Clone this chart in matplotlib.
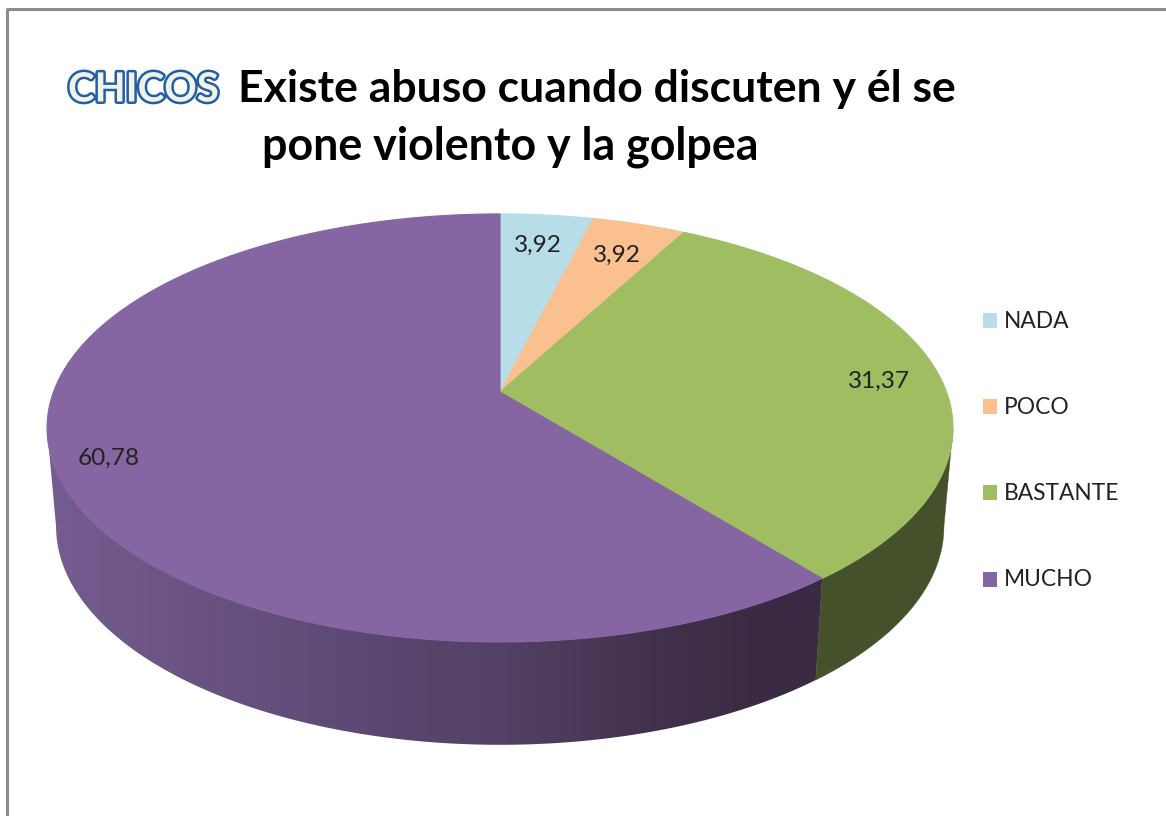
import numpy as np
import matplotlib
matplotlib.use("Agg")
import matplotlib.pyplot as plt
import matplotlib.patheffects as pe
from matplotlib.patches import Polygon, Rectangle

categories = ["NADA", "POCO", "BASTANTE", "MUCHO"]
values = [3.92, 3.92, 31.37, 60.78]
value_labels = ["3,92", "3,92", "31,37", "60,78"]
colors = ["#B7DDE8", "#FAC090", "#A0BD62", "#8565A2"]
title_word = "CHICOS"
title_line1 = "Existe abuso cuando discuten y él se"
title_line2 = "pone violento y la golpea"

plt.rcParams["font.family"] = ["Lato", "DejaVu Sans"]
fig = plt.figure(figsize=(11.66, 8.16), dpi=100)
ax = fig.add_axes([0, 0, 1, 1])
ax.set_xlim(0, 1166)
ax.set_ylim(816, 0)
ax.axis("off")

# projective view of the pie disc
CX, K = 500.0, 0.168
TOP = dict(a=446.5, b=208.0, y0=392.0)
LOW = dict(a=437.6, b=212.0, y0=490.0)


def rim(theta, a, b, y0):
    u, v = np.sin(theta), np.cos(theta)
    d = 1 + K * v
    return np.column_stack([CX + a * u / d, y0 - b * v / d])


fractions = np.array(values) / np.sum(values)
edges = 2 * np.pi * np.concatenate([[0], np.cumsum(fractions)])

# side wall shading (left to right across the front)
wall_x = [45, 150, 300, 500, 650, 760, 825]
wall_r = [0x75, 0x6E, 0x61, 0x52, 0x43, 0x3A, 0x3A]
wall_g = [0x5C, 0x56, 0x4C, 0x41, 0x32, 0x2A, 0x2A]
wall_b = [0x92, 0x86, 0x7A, 0x64, 0x4E, 0x43, 0x43]
green_wall = "#45512A"

t_start, t_end = np.arccos(-K), 2 * np.pi - np.arccos(-K)


def wall_polygon(t0, t1):
    ts = np.linspace(t0, t1, 300)
    return np.vstack([rim(ts, **TOP), rim(ts, **LOW)[::-1]])


ax.add_patch(Polygon(wall_polygon(t_start, edges[3]), closed=True,
                     facecolor=green_wall, edgecolor=green_wall, linewidth=0.3))

xs = np.arange(40, 830)
grad = np.stack([np.interp(xs, wall_x, wall_r),
                 np.interp(xs, wall_x, wall_g),
                 np.interp(xs, wall_x, wall_b)], axis=-1)[None, :, :] / 255
purple_clip = Polygon(wall_polygon(edges[3], t_end), closed=True, facecolor="none",
                      edgecolor="none", transform=ax.transData)
ax.add_patch(purple_clip)
im = ax.imshow(grad, extent=(xs[0], xs[-1], 760, 400), aspect="auto",
               interpolation="bilinear", zorder=1)
im.set_clip_path(purple_clip)
ax.set_xlim(0, 1166)
ax.set_ylim(816, 0)

# top face
for c, t0, t1 in zip(colors, edges[:-1], edges[1:]):
    n = max(int((t1 - t0) * 120), 8)
    arc = rim(np.linspace(t0, t1, n), **TOP)
    pts = np.vstack([[CX, TOP["y0"]], arc])
    ax.add_patch(Polygon(pts, closed=True, facecolor=c, edgecolor=c, linewidth=0.8, zorder=2))

# data labels
label_xy = [(538, 245), (617, 255), (879, 381), (109, 458)]
for (x, y), s in zip(label_xy, value_labels):
    ax.text(x, y, s, ha="center", va="center", fontsize=17.6, color="#222222", zorder=3)

# legend
legend_y = [320, 406, 492.5, 579]
legend_base = [328, 414, 500, 586]
for y, b, c, s in zip(legend_y, legend_base, colors, categories):
    ax.add_patch(Rectangle((982.5, y - 7.5), 14.5, 15, facecolor=c, edgecolor="none"))
    ax.text(1004, b, s, ha="left", va="baseline", fontsize=16.4, color="#222222")

# titles
ax.text(238, 102, title_line1, ha="left", va="baseline", fontsize=32, fontweight="bold", color="#000000")
ax.text(262, 160, title_line2, ha="left", va="baseline", fontsize=32.2, fontweight="bold", color="#000000")
ax.text(68, 101.5, title_word, ha="left", va="baseline", fontsize=29, fontweight="bold", color="#F4F2E4",
        path_effects=[pe.withStroke(linewidth=3.6, foreground="#1F5FA8")])

# chart-area border (top and left only are in frame)
ax.add_line(plt.Line2D([7, 7], [816, 9], color="#8c8c8c", lw=2.2, solid_capstyle="butt"))
ax.add_line(plt.Line2D([6, 1166], [9, 9], color="#8c8c8c", lw=2.2, solid_capstyle="butt"))

fig.savefig("out.png", dpi=100, facecolor="white")
